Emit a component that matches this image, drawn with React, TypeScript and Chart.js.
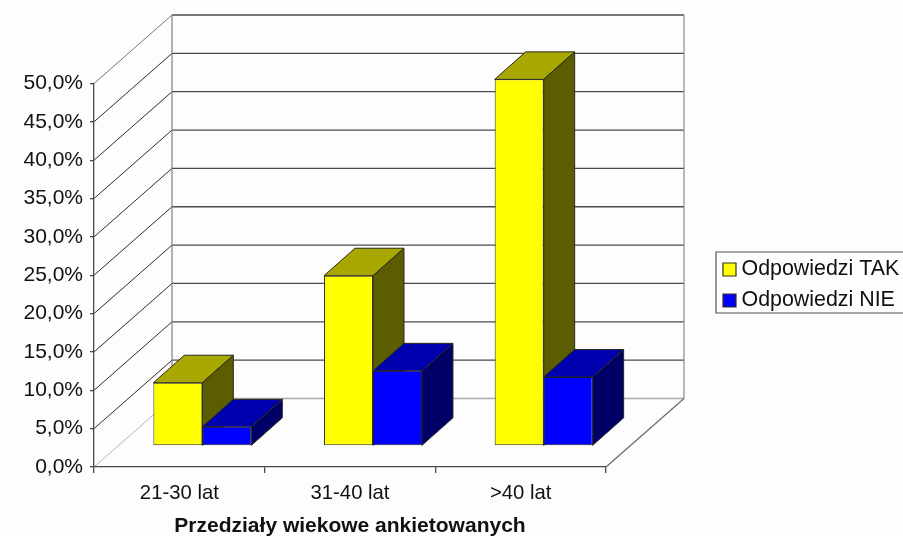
import React, { useEffect, useRef } from "react";
import { Chart, registerables } from "chart.js";

Chart.register(...registerables);

const categories = ["21-30 lat", "31-40 lat", ">40 lat"];
const seriesTak = [8.25, 22.2, 47.8];
const seriesNie = [2.5, 9.8, 9.0];
const labelTak = "Odpowiedzi TAK";
const labelNie = "Odpowiedzi NIE";
const axisTitle = "Przedziały wiekowe ankietowanych";

const FONT = "'Liberation Sans', Arial, sans-serif";
const WIDTH = 903;
const HEIGHT = 536;

// Oblique projection: offset of the back wall and of the bars' depth.
const WALL_DX = 78;
const WALL_DY = -68.5;
const BAR_SHIFT_DX = 23;
const BAR_SHIFT_DY = -21;
const BAR_DEPTH_DX = 31;
const BAR_DEPTH_DY = -27.5;

const faceColors: Record<number, { top: string; side: string }> = {
  0: { top: "#A8A800", side: "#5C5C00" },
  1: { top: "#0000AE", side: "#000066" },
};

function poly(ctx: CanvasRenderingContext2D, pts: number[][], fill: string | null, stroke: string) {
  ctx.beginPath();
  pts.forEach(([x, y], i) => (i ? ctx.lineTo(x, y) : ctx.moveTo(x, y)));
  ctx.closePath();
  if (fill) {
    ctx.fillStyle = fill;
    ctx.fill();
  }
  ctx.strokeStyle = stroke;
  ctx.lineWidth = 1;
  ctx.stroke();
}

function line(ctx: CanvasRenderingContext2D, x0: number, y0: number, x1: number, y1: number, color: string, w = 1) {
  ctx.beginPath();
  ctx.moveTo(x0, y0);
  ctx.lineTo(x1, y1);
  ctx.strokeStyle = color;
  ctx.lineWidth = w;
  ctx.stroke();
}

// Back wall, side wall and floor of the 3D box.
const wallsPlugin = {
  id: "walls",
  beforeDraw(chart: any) {
    const { ctx, chartArea, scales } = chart;
    const { left, right } = chartArea;
    const y = scales.y;
    const zero = y.getPixelForValue(0);
    const top = y.getPixelForValue(y.max);
    ctx.save();
    ctx.fillStyle = "#FDFDFD";
    ctx.fillRect(0, 0, WIDTH, HEIGHT);
    y.ticks.forEach((t: any) => {
      const py = y.getPixelForValue(t.value);
      const isFloor = t.value === 0;
      const isTop = t.value === y.max;
      line(ctx, left + WALL_DX, py + WALL_DY, right + WALL_DX, py + WALL_DY, isFloor ? "#AAAAAA" : "#4A4A4A", isTop ? 1.5 : 1.3);
      line(ctx, left, py, left + WALL_DX, py + WALL_DY, isFloor ? "#B5B5B5" : isTop ? "#777777" : "#2E2E2E", 1);
    });
    line(ctx, left + WALL_DX, top + WALL_DY, left + WALL_DX, zero + WALL_DY, "#808080", 1.2);
    line(ctx, right + WALL_DX, top + WALL_DY, right + WALL_DX, zero + WALL_DY, "#8A8A8A", 1.2);
    line(ctx, right, zero, right + WALL_DX, zero + WALL_DY, "#6A6A6A", 1.2);
    ctx.restore();
  },
};

// Draws the series left to right so the right-hand bars sit in front,
// shifted into the box, each with its top and side faces.
const barDepthPlugin = {
  id: "barDepth",
  beforeDatasetsDraw(chart: any) {
    const { ctx } = chart;
    chart.data.datasets.forEach((_: any, index: number) => {
      const meta = chart.getDatasetMeta(index);
      const faces = faceColors[index];
      ctx.save();
      ctx.translate(BAR_SHIFT_DX, BAR_SHIFT_DY);
      meta.data.forEach((bar: any) => {
        const half = bar.width / 2;
        const l = bar.x - half;
        const r = bar.x + half;
        const t = bar.y;
        const b = bar.base;
        poly(ctx, [[l, t], [l + BAR_DEPTH_DX, t + BAR_DEPTH_DY], [r + BAR_DEPTH_DX, t + BAR_DEPTH_DY], [r, t]], faces.top, "#2A2A20");
        poly(ctx, [[r, t], [r + BAR_DEPTH_DX, t + BAR_DEPTH_DY], [r + BAR_DEPTH_DX, b + BAR_DEPTH_DY], [r, b]], faces.side, "#2A2A20");
      });
      meta.controller.draw();
      ctx.restore();
    });
    return false;
  },
};

// Boxed legend on the right, clipped by the edge of the canvas.
const legendBoxPlugin = {
  id: "legendBox",
  afterDraw(chart: any) {
    const { ctx } = chart;
    ctx.save();
    ctx.strokeStyle = "#555555";
    ctx.lineWidth = 1.2;
    ctx.fillStyle = "#FDFDFD";
    ctx.beginPath();
    ctx.rect(716, 252, 200, 61);
    ctx.fill();
    ctx.stroke();
    ctx.font = `21.4px ${FONT}`;
    ctx.textBaseline = "middle";
    chart.data.datasets.forEach((ds: any, i: number) => {
      const cy = 269.5 + i * 31;
      ctx.fillStyle = ds.backgroundColor;
      ctx.strokeStyle = "#333322";
      ctx.lineWidth = 1.2;
      ctx.beginPath();
      ctx.rect(723, cy - 6.5, 13, 13);
      ctx.fill();
      ctx.stroke();
      ctx.fillStyle = "#111111";
      ctx.fillText(ds.label, 741.5, cy);
    });
    ctx.restore();
  },
};

export default function App() {
  const ref = useRef<HTMLCanvasElement>(null);

  useEffect(() => {
    const chart = new Chart(ref.current!, {
      type: "bar",
      data: {
        labels: categories,
        datasets: [
          {
            label: labelTak,
            data: seriesTak,
            backgroundColor: "#FFFF00",
            borderColor: "#33331F",
            borderWidth: 1,
            borderSkipped: false,
          },
          {
            label: labelNie,
            data: seriesNie,
            backgroundColor: "#0000FF",
            borderColor: "#1A1A33",
            borderWidth: 1,
            borderSkipped: false,
          },
        ],
      } as any,
      options: {
        responsive: false,
        animation: false,
        events: [],
        layout: { padding: { left: 0, right: WIDTH - 606, top: 83.5, bottom: 0 } },
        datasets: { bar: { categoryPercentage: 0.574, barPercentage: 1 } },
        plugins: { legend: { display: false }, tooltip: { enabled: false }, title: { display: false } },
        scales: {
          x: {
            afterFit: (s: any) => {
              s.height = 69;
            },
            border: { display: true, color: "#4A4A4A", width: 1.3 },
            grid: { offset: true, drawOnChartArea: false, drawTicks: true, tickLength: 6, color: "#4A4A4A", lineWidth: 1.3 },
            ticks: { color: "#111111", font: { family: FONT, size: 20.3 }, padding: 8, maxRotation: 0 },
            title: {
              display: true,
              text: axisTitle,
              color: "#111111",
              font: { family: FONT, size: 21, weight: "bold" },
              padding: { top: 0, bottom: -3 },
            },
          },
          y: {
            min: 0,
            max: 50,
            afterFit: (s: any) => {
              s.width = 94;
            },
            border: { display: true, color: "#4A4A4A", width: 1.3 },
            grid: { drawOnChartArea: false, drawTicks: true, tickLength: 4, color: "#4A4A4A", lineWidth: 1.3 },
            ticks: {
              stepSize: 5,
              color: "#111111",
              font: { family: FONT, size: 21 },
              padding: 7,
              callback: (v: any) => `${Number(v).toFixed(1).replace(".", ",")}%`,
            },
          },
        },
      } as any,
      plugins: [wallsPlugin, barDepthPlugin, legendBoxPlugin],
    });
    return () => chart.destroy();
  }, []);

  return (
    <div style={{ position: "absolute", left: 0, top: 0, width: WIDTH, height: HEIGHT, overflow: "hidden" }}>
      <canvas ref={ref} width={WIDTH} height={HEIGHT} style={{ display: "block" }} />
    </div>
  );
}
